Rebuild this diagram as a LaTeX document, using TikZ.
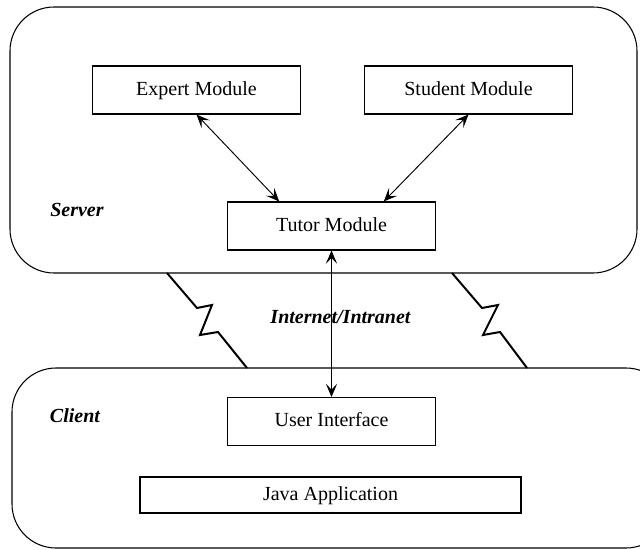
\documentclass[tikz,border=0pt]{standalone}
\usepackage{fontspec}
\setmainfont{Liberation Serif}
\usetikzlibrary{arrows.meta,calc}
\begin{document}
\begin{tikzpicture}[x=0.75pt,y=-0.75pt,
  module/.style={draw,line width=0.8pt,rectangle,inner sep=0pt,
    minimum width=156pt,minimum height=36pt,text height=10.5pt,text depth=3pt,
    font=\fontsize{15}{18}\selectfont},
  tier/.style={draw,line width=0.8pt,rounded corners=33pt},
  tierlabel/.style={font=\fontsize{15}{18}\selectfont\bfseries\itshape},
  tip/.style={Stealth[length=10pt,width=8.5pt,inset=4.5pt]},
  link/.style={line width=0.7pt,{Stealth[length=10pt,width=8.5pt,inset=4.5pt]}-{Stealth[length=10pt,width=8.5pt,inset=4.5pt]}},
  bolt/.style={line width=1.5pt,line join=miter}]
\useasboundingbox (0,0) rectangle (640,550);

% server and client tiers
\draw[tier] (10,7) rectangle (637,273);
\draw[tier] (12,368) rectangle (670,548);

% modules
\node[module] (expert) at (196.5,90) {Expert Module};
\node[module] (student) at (468.5,90) {Student Module};
\node[module] (tutor) at (331.5,226) {Tutor Module};
\node[module] (ui) at (331.5,421.5) {User Interface};
\node[module,minimum width=285.75pt,minimum height=27pt,line width=1pt] (java) at (330.5,495) {Java Application};

% labels
\node[tierlabel] (server) at (77,210) {Server};
\node[tierlabel] (client) at (75,416) {Client};
\node[tierlabel] (net) at (340.5,317) {Internet/Intranet};

% connectors
\draw[link] (expert.south) -- ($(tutor.north west)!0.25!(tutor.north east)$);
\draw[link] (student.south) -- ($(tutor.north west)!0.75!(tutor.north east)$);
\draw[link] (tutor.south) -- (ui.north);

% network links between the tiers
\draw[bolt] (167,273) -- (197,308) -- (212,305) -- (200,335) -- (218,332) -- (247,368);
\draw[bolt] (452,273) -- (482,308) -- (498,305) -- (483,335) -- (500,332) -- (527,368);
\end{tikzpicture}
\end{document}
